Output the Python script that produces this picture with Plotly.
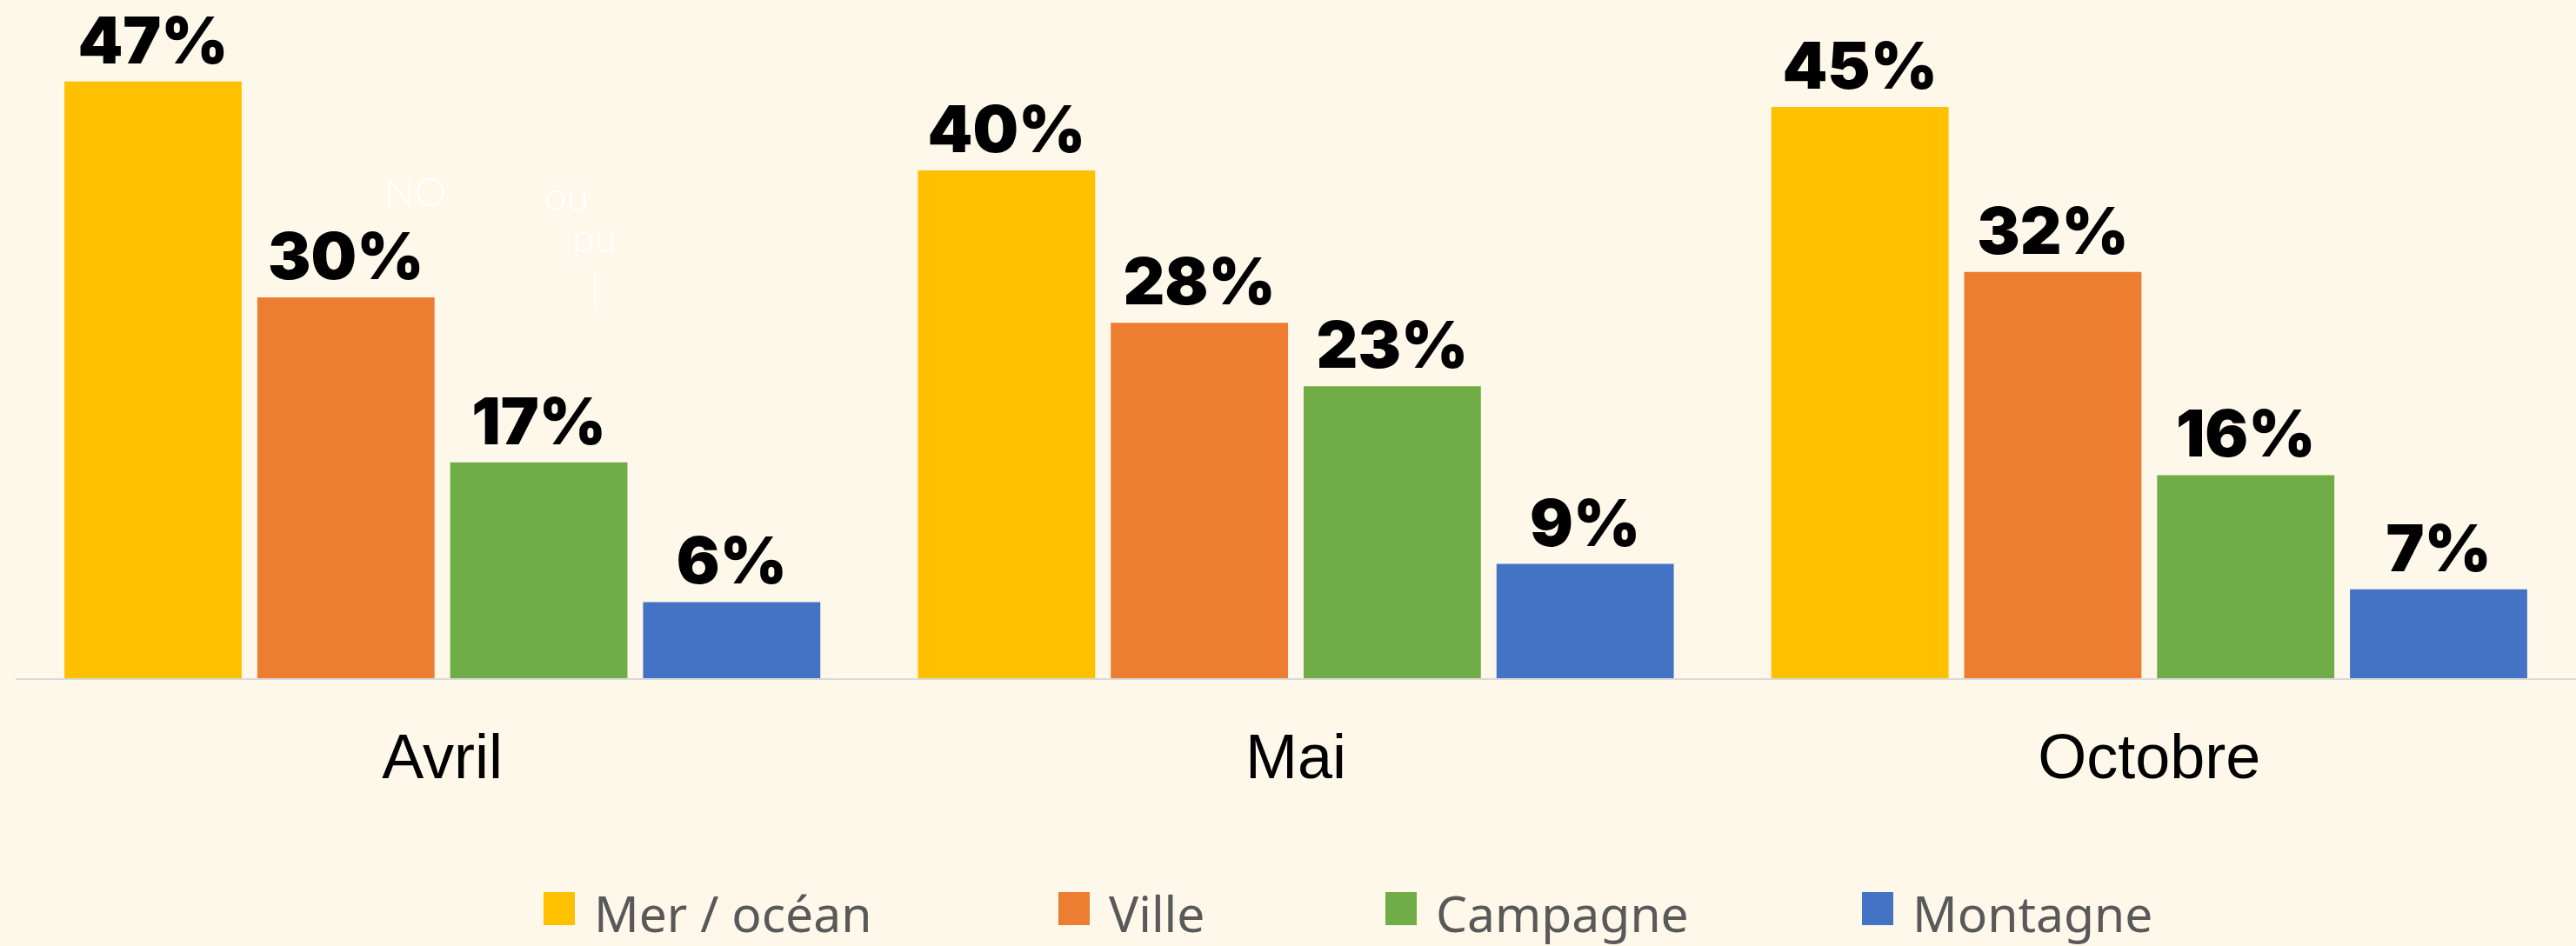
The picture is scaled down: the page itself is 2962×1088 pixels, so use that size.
import plotly.graph_objects as go

# ---------------- data ----------------
months = ["Avril", "Mai", "Octobre"]
series_names = ["Mer / océan", "Ville", "Campagne", "Montagne"]
mer_ocean = [47, 40, 45]
ville = [30, 28, 32]
campagne = [17, 23, 16]
montagne = [6, 9, 7]
series_values = [mer_ocean, ville, campagne, montagne]

# ---------------- style / layout constants ----------------
colors = ["#FFC000", "#ED7D31", "#70AD47", "#4472C4"]
BG = "#FEF8EB"
W, H = 2962, 1088
ML, MR, MT, MB = 18, 0, 0, 308
PLOT_W = W - ML - MR
PLOT_H = H - MT - MB
PX_PER_UNIT = 14.6
Y_MAX = PLOT_H / PX_PER_UNIT


def xp(px):
    return (px - ML) / PLOT_W


def yp(py):
    return 1 - (py - MT) / PLOT_H


fig = go.Figure()
for name, vals, col in zip(series_names, series_values, colors):
    fig.add_trace(go.Bar(
        x=months, y=vals, name=name,
        marker=dict(color=col, line=dict(width=0)),
        text=[f"{v}%" for v in vals],
        textposition="outside",
        constraintext="none",
        cliponaxis=False,
        textfont=dict(family="Inter", size=74, color="#000000", weight=900),
        showlegend=False,
        hoverinfo="skip",
    ))

# legend drawn as squares + labels
legend_square_left = [625, 1217, 1593, 2141]
SQ_W, SQ_H = 36, 38
SQ_TOP = 1026
shapes = []
annotations = []
for name, col, lx in zip(series_names, colors, legend_square_left):
    shapes.append(dict(type="rect", xref="paper", yref="paper",
                       x0=xp(lx), x1=xp(lx + SQ_W), y0=yp(SQ_TOP + SQ_H), y1=yp(SQ_TOP),
                       fillcolor=col, line=dict(width=0), layer="above"))
    annotations.append(dict(text=name, xref="paper", yref="paper",
                            x=xp(lx + SQ_W + 20), y=yp(1050), xanchor="left", yanchor="middle",
                            showarrow=False,
                            font=dict(family="Noto Sans", size=57, color="#595959")))

# faint white stray text in the original
ghosts = [("NO", 477, 219), ("ou", 651, 225), ("pu", 683, 272), ("|", 684, 329)]
for t, gx, gy in ghosts:
    annotations.append(dict(text=t, xref="paper", yref="paper", x=xp(gx), y=yp(gy),
                            xanchor="center", yanchor="middle", showarrow=False,
                            font=dict(family="Lato", size=46, color="#FFFFFF", weight=300)))

fig.update_layout(
    width=W, height=H,
    margin=dict(l=ML, r=MR, t=MT, b=MB, pad=0),
    paper_bgcolor=BG, plot_bgcolor=BG,
    barmode="group", bargap=0.096, bargroupgap=0.081,
    shapes=shapes, annotations=annotations,
    showlegend=False,
    xaxis=dict(showline=True, linecolor="#D9D9D9", linewidth=2, ticks="",
               showgrid=False, zeroline=False,
               tickfont=dict(family="Liberation Sans", size=72, color="#000000"),
               ticklabelstandoff=27),
    yaxis=dict(visible=False, range=[0, Y_MAX], showgrid=False, zeroline=False),
)

fig.write_html(
    "out.html",
    config={"displayModeBar": False},
    post_script="document.body.style.margin='0';document.body.style.padding='0';"
                "document.body.style.overflow='hidden';document.body.style.background='" + BG + "';",
)
